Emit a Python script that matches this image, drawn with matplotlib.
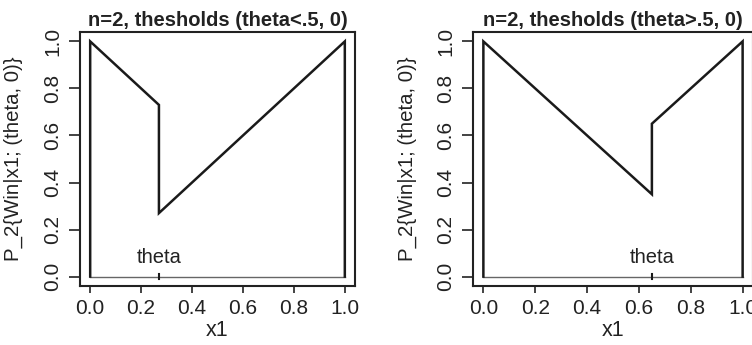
import matplotlib.pyplot as plt

plt.rcParams['font.family'] = ['Liberation Sans', 'DejaVu Sans']

# left panel: theta < .5
theta_left = 0.27
x_left = [0.0, 0.0, 0.27, 0.27, 1.0, 1.0]
y_left = [0.0, 1.0, 0.73, 0.27, 1.0, 0.0]

# right panel: theta > .5
theta_right = 0.65
x_right = [0.0, 0.0, 0.65, 0.65, 1.0, 1.0]
y_right = [0.0, 1.0, 0.35, 0.65, 1.0, 0.0]

ticks = [0.0, 0.2, 0.4, 0.6, 0.8, 1.0]
tick_labels = ['0.0', '0.2', '0.4', '0.6', '0.8', '1.0']

titles = ['n=2, thesholds (theta<.5, 0)', 'n=2, thesholds (theta>.5, 0)']

fig = plt.figure(figsize=(7.52, 3.45), dpi=100)
ax1 = fig.add_axes([80 / 752, 1 - 286 / 345, 275 / 752, 254 / 345])
ax2 = fig.add_axes([473 / 752, 1 - 286 / 345, 280 / 752, 254 / 345])

panels = [(ax1, x_left, y_left, theta_left, titles[0]),
          (ax2, x_right, y_right, theta_right, titles[1])]

for ax, xs, ys, th, title in panels:
    # baseline at y=0
    ax.plot([0, 1], [0, 0], color='#666666', lw=1.0)
    ax.plot(xs, ys, color='#1a1a1a', lw=1.8, solid_joinstyle='miter')
    # theta mark
    ax.plot([th, th], [-0.012, 0.012], color='#1a1a1a', lw=1.5)
    ax.text(th, 0.04, 'theta', ha='center', va='bottom', fontsize=14.5, color='#222222')

    ax.set_xlim(-0.04, 1.04)
    ax.set_ylim(-0.04, 1.04)
    ax.set_xticks(ticks)
    ax.set_xticklabels(tick_labels)
    ax.set_yticks(ticks)
    ax.set_yticklabels(tick_labels, rotation=90, va='center')
    ax.tick_params(axis='x', direction='out', length=5, width=1.2, labelsize=15,
                   colors='#222222', pad=4)
    ax.tick_params(axis='y', direction='out', length=8, width=1.2, labelsize=15,
                   colors='#222222', pad=5)
    for s in ax.spines.values():
        s.set_linewidth(1.5)
        s.set_color('#222222')
    ax.set_title(title, fontsize=14.5, fontweight='bold', color='#222222', pad=4)
    ax.set_xlabel('x1', fontsize=15.5, color='#222222', labelpad=2)
    ax.set_ylabel('P_2{Win|x1; (theta, 0)}', fontsize=14.7, color='#222222', labelpad=14)

fig.savefig('out.png', dpi=100)
